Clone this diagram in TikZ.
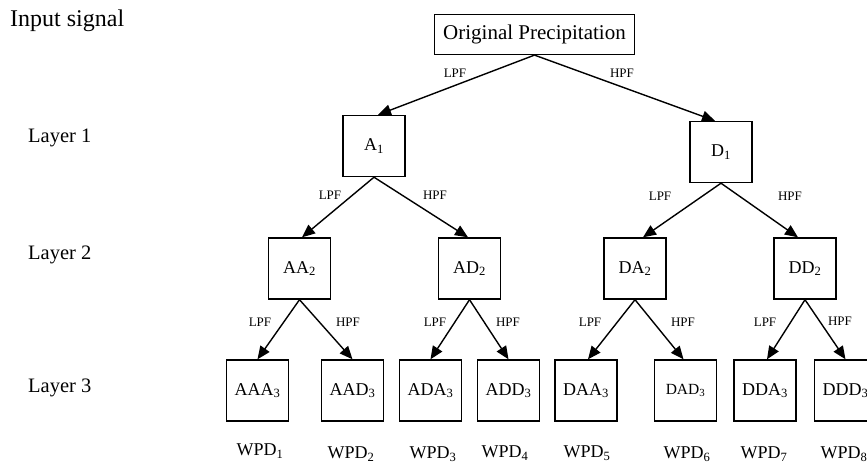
\documentclass[tikz,border=0pt]{standalone}
\usepackage{fontspec}
\setmainfont{Liberation Serif}
\usetikzlibrary{arrows.meta}
\tikzset{
  box/.style={draw, line width=1.4pt, inner sep=0pt, minimum width=62pt, minimum height=61pt, font=\fontsize{18}{20}\selectfont},
  topbox/.style={draw, line width=1.2pt, inner sep=0pt, minimum width=200pt, minimum height=40pt, font=\fontsize{21}{23}\selectfont},
  conn/.style={line width=1.4pt, -{Triangle[length=13pt,width=11pt]}},
  flt/.style={font=\fontsize{13}{15}\selectfont, inner sep=0pt},
  lay/.style={font=\fontsize{20.5}{22}\selectfont, anchor=west, inner sep=0pt},
  wpd/.style={font=\fontsize{18}{20}\selectfont, inner sep=0pt},
}
\newcommand{\sbs}[1]{\textsubscript{#1}}
\begin{document}
\begin{tikzpicture}[x=1pt,y=-1pt]
\useasboundingbox (0,0) rectangle (867,463);
% side labels
\node[lay, font=\fontsize{24}{26}\selectfont] (inp) at (10,21) {Input signal};
\node[lay] (l1) at (28,138) {Layer 1};
\node[lay] (l2) at (28,255) {Layer 2};
\node[lay] (l3) at (28,388) {Layer 3};
% boxes
\node[topbox] (op) at (534.5,34.5) {Original Precipitation};
\node[box] (A1) at (374,146) {A\sbs{1}};
\node[box] (D1) at (721,152) {D\sbs{1}};
\node[box] (AA2) at (299.5,268.5) {AA\sbs{2}};
\node[box] (AD2) at (469.5,268.5) {AD\sbs{2}};
\node[box] (DA2) at (635,268.5) {DA\sbs{2}};
\node[box] (DD2) at (805,268.5) {DD\sbs{2}};
\node[box] (AAA3) at (257.5,390.5) {AAA\sbs{3}};
\node[box] (AAD3) at (352.5,390.5) {AAD\sbs{3}};
\node[box] (ADA3) at (430.5,390.5) {ADA\sbs{3}};
\node[box] (ADD3) at (508.5,390.5) {ADD\sbs{3}};
\node[box] (DAA3) at (586,390.5) {DAA\sbs{3}};
\node[box, font=\fontsize{15.5}{17}\selectfont] (DAD3) at (685.5,390.5) {DAD\sbs{3}};
\node[box] (DDA3) at (765,390.5) {DDA\sbs{3}};
\node[box] (DDD3) at (845.5,390.5) {DDD\sbs{3}};
% connectors
\draw[conn] (op.south) -- ([xshift=4pt]A1.north);
\draw[conn] (op.south) -- ([xshift=-6pt]D1.north);
\draw[conn] (A1.south) -- ([xshift=2.5pt]AA2.north);
\draw[conn] (A1.south) -- ([xshift=-1.5pt]AD2.north);
\draw[conn] (D1.south) -- ([xshift=8pt]DA2.north);
\draw[conn] (D1.south) -- ([xshift=-7pt]DD2.north);
\draw[conn] (AA2.south) -- (AAA3.north);
\draw[conn] (AA2.south) -- (AAD3.north);
\draw[conn] (AD2.south) -- (ADA3.north);
\draw[conn] (AD2.south) -- (ADD3.north);
\draw[conn] (DA2.south) -- ([xshift=2pt]DAA3.north);
\draw[conn] (DA2.south) -- ([xshift=-2pt]DAD3.north);
\draw[conn] (DD2.south) -- ([xshift=2pt]DDA3.north);
\draw[conn] (DD2.south) -- (DDD3.north);
% filter labels
\node[flt] (f1) at (455,73) {LPF};
\node[flt] (f2) at (622,73) {HPF};
\node[flt] (f3) at (330,195) {LPF};
\node[flt] (f4) at (435,195) {HPF};
\node[flt] (f5) at (660,196) {LPF};
\node[flt] (f6) at (790,196) {HPF};
\node[flt] (f7) at (260,322) {LPF};
\node[flt] (f8) at (348,322) {HPF};
\node[flt] (f9) at (435,322) {LPF};
\node[flt] (f10) at (508,322) {HPF};
\node[flt] (f11) at (590,322) {LPF};
\node[flt] (f12) at (683,322) {HPF};
\node[flt] (f13) at (765,322) {LPF};
\node[flt] (f14) at (840,321) {HPF};
% WPD labels
\node[wpd] (w1) at (260,451) {WPD\sbs{1}};
\node[wpd] (w2) at (351,454) {WPD\sbs{2}};
\node[wpd] (w3) at (433,454) {WPD\sbs{3}};
\node[wpd] (w4) at (505,453) {WPD\sbs{4}};
\node[wpd] (w5) at (587,453) {WPD\sbs{5}};
\node[wpd] (w6) at (687,454) {WPD\sbs{6}};
\node[wpd] (w7) at (764,454) {WPD\sbs{7}};
\node[wpd] (w8) at (844,454) {WPD\sbs{8}};
\end{tikzpicture}
\end{document}
